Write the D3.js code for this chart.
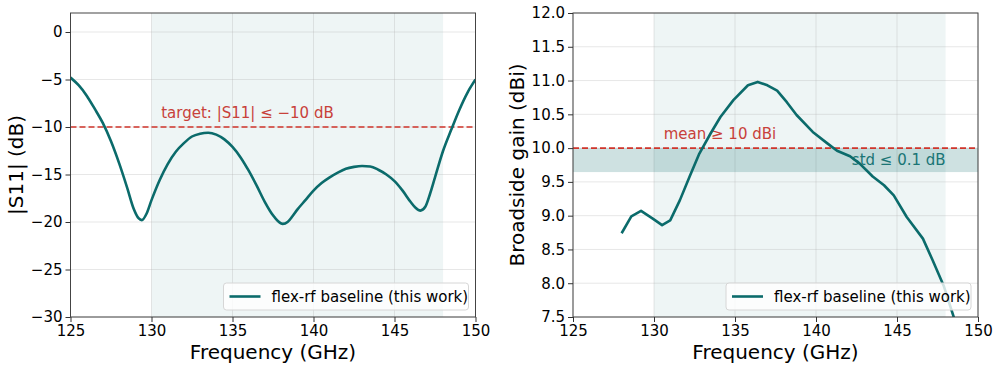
<!DOCTYPE html>
<html>
  <head>
    <meta charset="utf-8">
    <title>flex-rf baseline</title>
    <script src="https://cdn.jsdelivr.net/npm/d3@7"></script>
    <style>
      body { margin: 0; background: #fff; }
      svg { font-family: "DejaVu Sans", sans-serif; }
    </style>
  </head>
  <body>
    <svg id="chart" width="1000" height="369"></svg>
    <script>
      // S11 data (GHz, dB)
      var s11Freq = [125, 125.5, 126, 126.5, 127, 127.5, 128, 128.5, 128.9, 129.2, 129.4, 129.7, 130, 130.5, 131, 131.5, 132, 132.5, 133, 133.5, 134, 134.5, 135, 135.5, 136, 136.5, 137, 137.5, 137.8, 138.1, 138.4, 138.7, 139, 139.5, 140, 140.5, 141, 141.5, 142, 142.5, 143, 143.5, 144, 144.5, 145, 145.5, 146, 146.3, 146.6, 146.9, 147.2, 147.5, 148, 148.5, 149, 149.5, 150];
      var s11Vals = [-4.8, -5.6, -6.7, -8.1, -9.6, -11.5, -13.8, -16.4, -18.6, -19.6, -19.8, -19.1, -17.7, -15.6, -13.9, -12.6, -11.7, -11.0, -10.7, -10.6, -10.8, -11.3, -12.1, -13.2, -14.6, -16.2, -17.9, -19.3, -19.9, -20.2, -20.0, -19.4, -18.7, -17.7, -16.7, -15.9, -15.3, -14.8, -14.4, -14.2, -14.1, -14.15, -14.5, -15.0, -15.7, -16.7, -17.9, -18.5, -18.8, -18.4, -17.0, -15.3, -12.5, -10.3, -8.2, -6.4, -5.0];
      // broadside gain data (GHz, dBi)
      var gainFreq = [128.0, 128.6, 129.2, 129.9, 130.5, 131.0, 131.6, 132.2, 132.8, 133.5, 134.1, 134.9, 135.8, 136.4, 137.0, 137.6, 138.2, 138.8, 139.8, 140.7, 141.3, 142.1, 142.7, 143.5, 144.2, 144.8, 145.6, 146.6, 147.2, 147.9, 148.5, 148.9];
      var gainVals = [8.74, 8.99, 9.07, 8.96, 8.86, 8.93, 9.23, 9.58, 9.92, 10.22, 10.46, 10.71, 10.93, 10.98, 10.93, 10.85, 10.68, 10.49, 10.24, 10.07, 9.96, 9.88, 9.77, 9.58, 9.45, 9.30, 8.98, 8.66, 8.34, 7.95, 7.50, 7.20];
      var xTicks = [125, 130, 135, 140, 145, 150];
      var s11Ticks = [0, -5, -10, -15, -20, -25, -30];
      var gainTicks = [7.5, 8.0, 8.5, 9.0, 9.5, 10.0, 10.5, 11.0, 11.5, 12.0];
      var band = [130, 148];
      var legendLabel = "flex-rf baseline (this work)";

      var teal = "#0b6b6b";
      var red = "#d0352b";
      var svg = d3.select("#chart");

      function styleAxis(sel) {
        sel.attr("font-family", "DejaVu Sans, sans-serif").attr("font-size", 15);
        sel.select(".domain").remove();
        sel.selectAll(".tick line").attr("stroke", "#333");
        sel.selectAll(".tick text").attr("fill", "#000");
      }

      function drawPanel(opt) {
        var g = svg.append("g");
        var x = d3.scaleLinear().domain([125, 150]).range([opt.left, opt.left + 405]);
        var y = d3.scaleLinear().domain(opt.yDomain).range([317, 13]);
        var clipId = "clip" + opt.id;
        svg.append("defs").append("clipPath").attr("id", clipId)
          .append("rect").attr("x", x(125)).attr("y", 13).attr("width", 405).attr("height", 304);

        // shaded band
        g.append("rect")
          .attr("x", x(band[0])).attr("y", 13)
          .attr("width", x(band[1]) - x(band[0])).attr("height", 304)
          .attr("fill", teal).attr("fill-opacity", 0.07);

        // grid
        g.append("g").selectAll("line").data(xTicks).enter().append("line")
          .attr("x1", d => x(d)).attr("x2", d => x(d)).attr("y1", 13).attr("y2", 317)
          .attr("stroke", "#b0b0b0").attr("stroke-opacity", 0.3);
        g.append("g").selectAll("line").data(opt.ticks).enter().append("line")
          .attr("x1", x(125)).attr("x2", x(150)).attr("y1", d => y(d)).attr("y2", d => y(d))
          .attr("stroke", "#b0b0b0").attr("stroke-opacity", 0.3);

        if (opt.extra) opt.extra(g, x, y);

        // threshold
        g.append("line")
          .attr("x1", x(125)).attr("x2", x(150)).attr("y1", y(opt.threshold)).attr("y2", y(opt.threshold))
          .attr("stroke", red).attr("stroke-width", 1.6).attr("stroke-dasharray", "6,3");
        g.append("text")
          .attr("x", x(130.6)).attr("y", y(opt.threshold) - 9)
          .attr("fill", "#c8413a").style("font-size", "15px")
          .text(opt.thresholdLabel);

        // series
        var line = d3.line()
          .x((d, i) => x(opt.xs[i])).y(d => y(d))
          .curve(opt.curve);
        g.append("path")
          .attr("d", line(opt.ys))
          .attr("clip-path", "url(#" + clipId + ")")
          .attr("fill", "none").attr("stroke", teal).attr("stroke-width", 2.6)
          .attr("stroke-linejoin", "round");

        // legend
        var lg = g.append("g");
        lg.append("rect")
          .attr("x", x(150) - 252).attr("y", 283).attr("width", 245).attr("height", 27).attr("rx", 3)
          .attr("fill", "#fff").attr("fill-opacity", 0.8).attr("stroke", "#d6d6d6");
        lg.append("line")
          .attr("x1", x(150) - 246).attr("x2", x(150) - 215).attr("y1", 296.5).attr("y2", 296.5)
          .attr("stroke", teal).attr("stroke-width", 2.6);
        lg.append("text")
          .attr("x", x(150) - 204).attr("y", 302)
          .style("font-size", "15px").text(legendLabel);

        // spines
        g.append("rect")
          .attr("x", x(125)).attr("y", 13).attr("width", 405).attr("height", 304)
          .attr("fill", "none").attr("stroke", "#444").attr("stroke-width", 1);

        // axes
        g.append("g").attr("transform", "translate(0,317)")
          .call(d3.axisBottom(x).tickValues(xTicks).tickSize(5).tickPadding(3).tickFormat(d3.format("d")))
          .call(styleAxis);
        g.append("g").attr("transform", "translate(" + x(125) + ",0)")
          .call(d3.axisLeft(y).tickValues(opt.ticks).tickSize(5).tickPadding(3).tickFormat(opt.fmt))
          .call(styleAxis);

        g.append("text")
          .attr("x", x(137.5)).attr("y", 359).attr("text-anchor", "middle")
          .style("font-size", "20px").text("Frequency (GHz)");
        g.append("text")
          .attr("transform", "translate(" + opt.yLabelX + ",165) rotate(-90)")
          .attr("text-anchor", "middle")
          .style("font-size", "20px").text(opt.yLabel);
      }

      drawPanel({
        id: "a", left: 70.5, yDomain: [-30, 2], ticks: s11Ticks,
        fmt: d => (d < 0 ? "\u2212" : "") + Math.abs(d),
        xs: s11Freq, ys: s11Vals, curve: d3.curveMonotoneX,
        threshold: -10, thresholdLabel: "target: |S11| \u2264 \u221210 dB",
        yLabel: "|S11| (dB)", yLabelX: 23
      });

      drawPanel({
        id: "b", left: 573, yDomain: [7.5, 12], ticks: gainTicks,
        fmt: d3.format(".1f"),
        xs: gainFreq, ys: gainVals, curve: d3.curveLinear,
        threshold: 10, thresholdLabel: "mean \u2265 10 dBi",
        yLabel: "Broadside gain (dBi)", yLabelX: 524,
        extra: function(g, x, y) {
          g.append("rect")
            .attr("x", x(125)).attr("y", y(10)).attr("width", 405).attr("height", y(9.645) - y(10))
            .attr("fill", teal).attr("fill-opacity", 0.2);
          g.append("text")
            .attr("x", x(148)).attr("y", y(10) + 17).attr("text-anchor", "end")
            .attr("fill", "#1a7575").style("font-size", "15px")
            .text("std \u2264 0.1 dB");
        }
      });
    </script>
  </body>
</html>
